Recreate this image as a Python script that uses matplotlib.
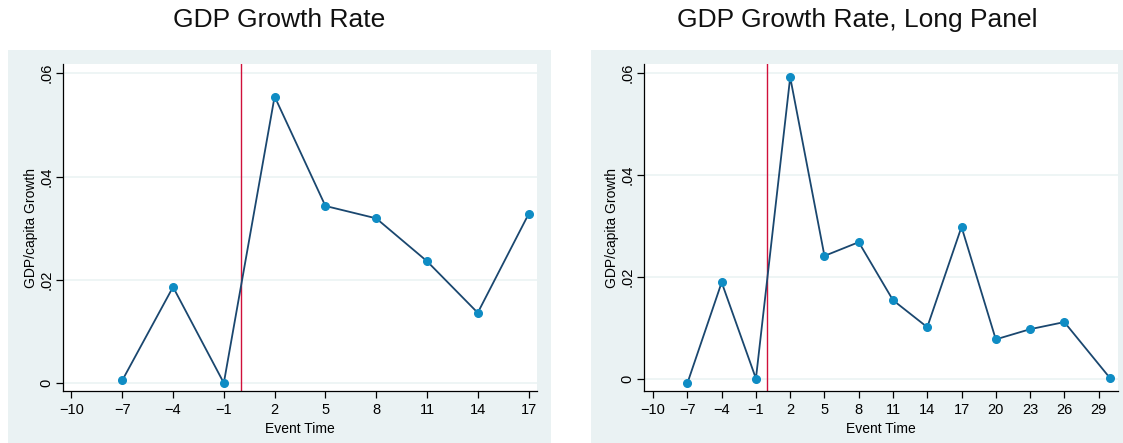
import matplotlib.pyplot as plt
from matplotlib.patches import Rectangle

plt.rcParams['font.family'] = ['Liberation Sans', 'DejaVu Sans']

# event-time profiles of GDP per capita growth
event_short = [-7, -4, -1, 2, 5, 8, 11, 14, 17]
growth_short = [0.0005, 0.0186, 0.0000, 0.0555, 0.0343, 0.0319, 0.0236, 0.0136, 0.0327]

event_long = [-7, -4, -1, 2, 5, 8, 11, 14, 17, 20, 23, 26, 30]
growth_long = [-0.0009, 0.0189, 0.0000, 0.0592, 0.0241, 0.0268, 0.0154, 0.0101,
               0.0298, 0.0077, 0.0097, 0.0111, 0.0001]

xticks_short = [-10, -7, -4, -1, 2, 5, 8, 11, 14, 17]
xticks_long = [-10, -7, -4, -1, 2, 5, 8, 11, 14, 17, 20, 23, 26, 29]
yticks = [0, 0.02, 0.04, 0.06]
ytick_labels = ['0', '.02', '.04', '.06']

titles = ["GDP Growth Rate", "GDP Growth Rate, Long Panel"]

BG = '#EAF2F3'
LINE = '#1A476F'
MARKER = '#0F8CC4'
RED = '#D0103A'

W, H = 1123, 443
fig = plt.figure(figsize=(W / 100, H / 100), dpi=100)
fig.patch.set_facecolor('white')

# graph region backgrounds (pixel boxes: left, right, top)
regions = [(8, 551, 50), (591, 1123, 50)]
for x0, x1, top in regions:
    fig.patches.append(Rectangle((x0 / W, 0), (x1 - x0) / W, 1 - top / H,
                                 transform=fig.transFigure, facecolor=BG,
                                 edgecolor='none', zorder=-1))

panels = [
    (63, event_short, growth_short, xticks_short, (-10.5, 17.5), (-0.00155, 0.0618)),
    (644, event_long, growth_long, xticks_long, (-10.8, 30.7), (-0.00244, 0.0618)),
]

for i, (left_px, xs, ys, xt, xlim, ylim) in enumerate(panels):
    ax = fig.add_axes([left_px / W, (H - 391) / H, 474 / W, 327 / H])
    ax.set_facecolor('white')
    for s in ['top', 'right']:
        ax.spines[s].set_visible(False)
    for s in ['left', 'bottom']:
        ax.spines[s].set_color('black')
        ax.spines[s].set_linewidth(0.9)

    for yv in yticks:
        ax.axhline(yv, color=BG, linewidth=1.1, zorder=1)

    ax.axvline(0, color=RED, linewidth=1.0, zorder=2)
    ax.plot(xs, ys, color=LINE, linewidth=1.3, zorder=3)
    ax.plot(xs, ys, linestyle='none', marker='o', markersize=5.5,
            color=MARKER, zorder=4)

    ax.set_xlim(*xlim)
    ax.set_ylim(*ylim)
    ax.set_xticks(xt)
    ax.set_xticklabels([str(v).replace('-', '\u2212') for v in xt])
    ax.set_yticks(yticks)
    ax.set_yticklabels(ytick_labels, rotation=90, va='center')
    ax.tick_params(axis='both', length=5, width=0.9, labelsize=10.5, colors='black')
    ax.tick_params(axis='x', pad=4)
    ax.tick_params(axis='y', pad=2)

    ax.set_xlabel("Event Time", fontsize=10, labelpad=3)
    ax.set_ylabel("GDP/capita Growth", fontsize=10, labelpad=1)

    x0, x1, _ = regions[i]
    fig.text((x0 + x1) / 2 / W, 1 - 20 / H, titles[i], ha='center', va='center',
             fontsize=19, color='#111111')

fig.savefig('out.png', dpi=100, facecolor=fig.get_facecolor())
